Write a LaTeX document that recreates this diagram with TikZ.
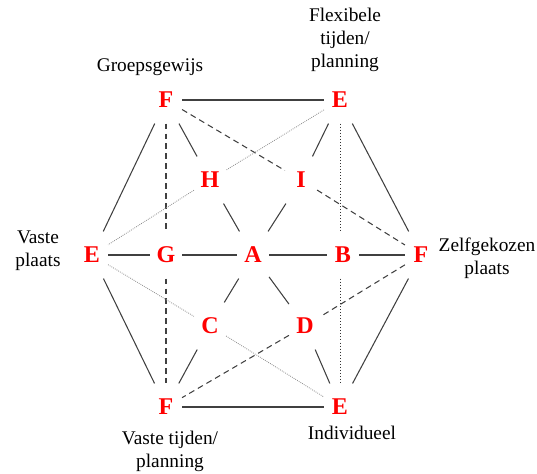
\documentclass[tikz,border=0pt]{standalone}
\usepackage{fontspec}
\setmainfont{Liberation Serif}
\usepackage{xcolor}
\usepackage{tikz}
\usetikzlibrary{positioning}

\begin{document}
\begin{tikzpicture}[
  x=0.03cm, y=-0.03cm,
  pt/.style={text=red, font=\fontsize{20.5}{24}\selectfont\bfseries,
             minimum width=0.95cm, minimum height=1.4cm, inner sep=0pt},
  lbl/.style={align=center, font=\fontsize{16.5}{19.6}\selectfont},
  ln/.style={black!75, line width=0.9pt},
  dln/.style={black!75, line width=0.9pt, dash pattern=on 5pt off 3.5pt},
  gln/.style={black!45, line width=0.7pt, densely dotted},
  kln/.style={black!80, line width=0.6pt, dotted},
]
\useasboundingbox (0,0) rectangle (537,473);
%% Outer hexagon
\node[pt] (ft) at (166,100) {F};
\node[pt] (et) at (340,100) {E};
\node[pt] (el) at (92,255) {E};
\node[pt] (fr) at (421,255) {F};
\node[pt] (fb) at (166,407) {F};
\node[pt] (eb) at (340,407) {E};
%% Inner points
\node[pt] (h) at (210,180) {H};
\node[pt] (i) at (301,180) {I};
\node[pt] (g) at (166,255) {G};
\node[pt] (a) at (253,255) {A};
\node[pt] (b) at (343,255) {B};
\node[pt] (c) at (210,326) {C};
\node[pt] (d) at (305,326) {D};
%% Labels
\node[lbl] (grp) at (150,67) {Groepsgewijs};
\node[lbl] (flx) at (345,40) {Flexibele\\tijden/\\planning};
\node[lbl] (vpl) at (38,251) {Vaste\\plaats};
\node[lbl] (zpl) at (487,258) {Zelfgekozen\\plaats};
\node[lbl] (vtp) at (170,451) {Vaste tijden/\\planning};
\node[lbl] (ind) at (352,433) {Individueel};
%% Solid connectors
\draw[ln] (ft) -- (et);
\draw[ln] (ft) -- (el);
\draw[ln] (et) -- (fr);
\draw[ln] (el) -- (fb);
\draw[ln] (fr) -- (eb);
\draw[ln] (fb) -- (eb);
\draw[ln] (ft) -- (h);
\draw[ln] (et) -- (i);
\draw[ln] (h) -- (a);
\draw[ln] (i) -- (a);
\draw[ln] (el) -- (g);
\draw[ln] (g) -- (a);
\draw[ln] (a) -- (b);
\draw[ln] (b) -- (fr);
\draw[ln] (a) -- (c);
\draw[ln] (a) -- (d);
\draw[ln] (c) -- (fb);
\draw[ln] (d) -- (eb);
%% Dashed connectors
\draw[dln] (ft) -- (g);
\draw[dln] (g) -- (fb);
\draw[dln] (ft) -- (i);
\draw[dln] (i) -- (fr);
\draw[dln] (fr) -- (d);
\draw[dln] (d) -- (fb);
%% Dotted connectors
\draw[kln] (et) -- (et |- b.north);
\draw[kln] (eb |- b.south) -- (eb);
\draw[gln] (et) -- (h);
\draw[gln] (h) -- (el);
\draw[gln] (el) -- (c);
\draw[gln] (c) -- (eb);
\end{tikzpicture}
\end{document}
